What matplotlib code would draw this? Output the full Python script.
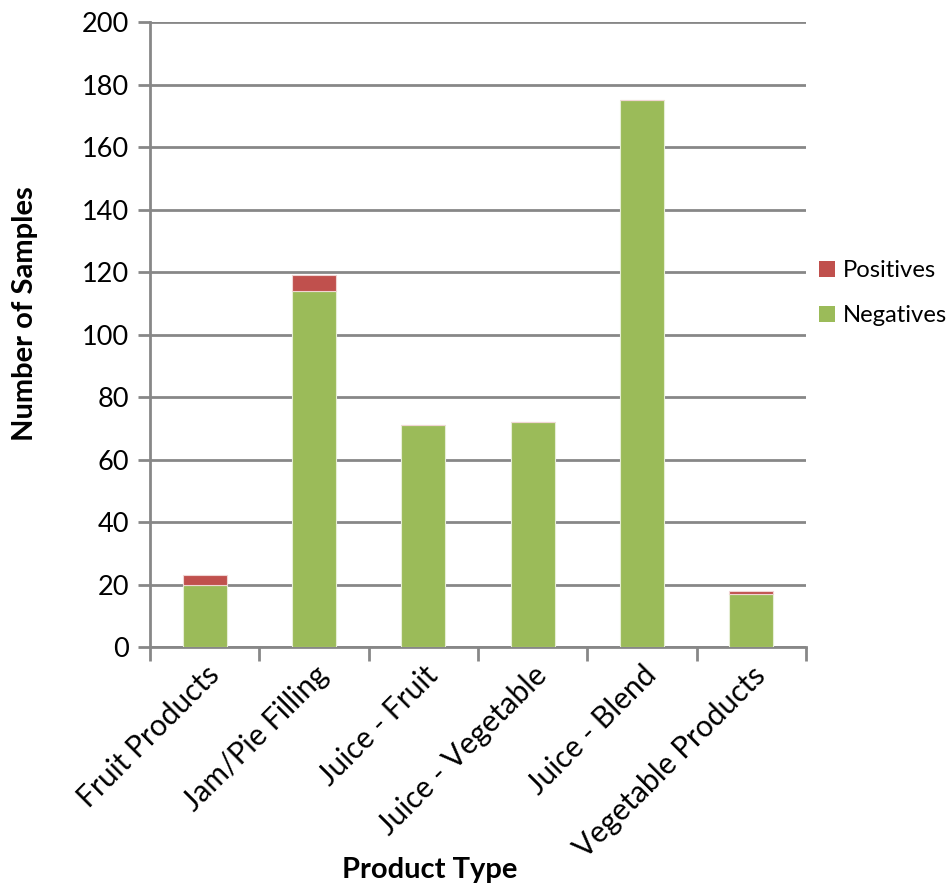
import matplotlib
matplotlib.use("Agg")
import matplotlib.pyplot as plt
import numpy as np
from matplotlib.patches import Patch

categories = ["Fruit Products", "Jam/Pie Filling", "Juice - Fruit",
              "Juice - Vegetable", "Juice - Blend", "Vegetable Products"]
negatives = [20, 114, 71, 72, 175, 17]
positives = [3, 5, 0, 0, 0, 1]
y_ticks = [0, 20, 40, 60, 80, 100, 120, 140, 160, 180, 200]

green = "#9BBB59"
red = "#C0504D"
grid_grey = "#878787"

plt.rcParams["font.family"] = ["Lato", "DejaVu Sans"]

fig = plt.figure(figsize=(9.51, 8.88), dpi=100)
ax = fig.add_axes([150 / 951, 1 - 647 / 888, 656 / 951, 625 / 888])

x = np.arange(len(categories))
ax.bar(x, negatives, width=0.4, color=green, edgecolor="#E6EED5", linewidth=0.8, zorder=3)
ax.bar(x, positives, width=0.4, bottom=negatives, color=red, edgecolor="#F0D5D4",
       linewidth=0.8, zorder=3)

ax.set_xlim(-0.5, len(categories) - 0.5)
ax.set_ylim(0, 200)
ax.set_yticks(y_ticks)
ax.set_yticklabels([str(v) for v in y_ticks], fontsize=19.5)
ax.yaxis.grid(True, color=grid_grey, linewidth=2, zorder=0)
ax.set_axisbelow(True)

# category labels centred under bars, tick marks at the category boundaries
ax.set_xticks(np.arange(-0.5, len(categories), 1.0))
ax.set_xticklabels([])
ax.set_xticks(x, minor=True)
ax.set_xticklabels(categories, minor=True, rotation=45, ha="right",
                   rotation_mode="anchor", fontsize=21.5)
ax.tick_params(axis="x", which="minor", length=0, pad=10)
ax.tick_params(axis="x", which="major", length=10, width=2, color=grid_grey)
ax.tick_params(axis="y", length=9, width=2, color=grid_grey, pad=6)

for side in ["top", "right"]:
    ax.spines[side].set_visible(False)
for side in ["left", "bottom"]:
    ax.spines[side].set_color(grid_grey)
    ax.spines[side].set_linewidth(2)

ax.set_ylabel("Number of Samples", fontsize=21, fontweight="bold", va="center")
ax.yaxis.set_label_coords((25 - 150) / 656, (647 - 314) / 625)
ax.set_xlabel("Product Type", fontsize=21, fontweight="bold", va="center")
ax.xaxis.set_label_coords((430 - 150) / 656, (647 - 870) / 625)

handles = [Patch(facecolor=red), Patch(facecolor=green)]
fig.legend(handles, ["Positives", "Negatives"], loc="center left",
           bbox_to_anchor=(819 / 951, 1 - 293 / 888), frameon=False, fontsize=17.2,
           handlelength=0.65, handleheight=0.65, handletextpad=0.35, labelspacing=1.0,
           borderpad=0.0, borderaxespad=0.0)

fig.savefig("out.png", dpi=100)
